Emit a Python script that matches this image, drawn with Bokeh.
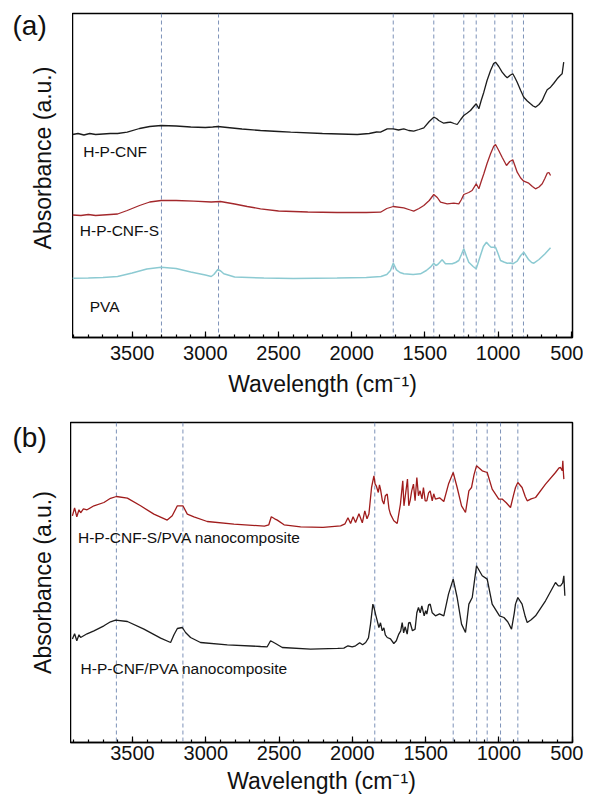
import math
from bokeh.plotting import figure
from bokeh.models import Span, Label, SingleIntervalTicker, Range1d
from bokeh.layouts import column, row
from bokeh.embed import file_html
from bokeh.resources import INLINE

FONT = "Liberation Sans"

# ---------------- Panel (a) data (wavenumber cm-1, absorbance a.u. with offsets) ----------------
A_CNF_WN = [3908, 3870, 3830, 3790, 3750, 3700, 3650, 3600, 3534, 3450, 3380, 3302, 3200, 3100, 3000,
            2950, 2915, 2850, 2750, 2623, 2500, 2417, 2200, 1962, 1880, 1830, 1803, 1757, 1716, 1680,
            1644, 1610, 1576, 1540, 1507, 1470, 1439, 1420, 1405, 1371, 1345, 1325, 1300, 1279, 1255,
            1234, 1210, 1188, 1160, 1149, 1131, 1115, 1097, 1075, 1051, 1030, 1017, 995, 972, 950,
            937, 915, 899, 885, 869, 845, 824, 800, 778, 760, 744, 720, 698, 680, 664, 641, 620, 596,
            575, 562, 551]
A_CNF_AB = [203, 204, 202.5, 204, 203, 203.5, 204, 204, 205.3, 209, 211, 212, 211.5, 210.5, 210,
            210.5, 211, 210, 208.5, 207, 206, 205.3, 204, 203, 204, 205.5, 205.3, 208.7, 208.7, 207.5,
            208.7, 207, 206.3, 208, 209.7, 216, 220.3, 219, 217, 214.3, 215, 215.3, 214, 213, 218,
            222, 224.5, 227, 232, 233.7, 228.7, 237, 245.3, 257, 267, 274, 275.3, 271, 265.3, 261.5,
            259.7, 262.5, 263.7, 260, 255.3, 247, 240.3, 236.5, 233.7, 231.5, 230.3, 233, 237, 243,
            247.7, 250.3, 254, 258.7, 262, 263.7, 275.3]

A_CNFS_WN = [3908, 3850, 3800, 3750, 3700, 3600, 3534, 3450, 3380, 3302, 3200, 3079, 2960, 2897, 2800,
             2714, 2623, 2500, 2300, 2100, 1900, 1803, 1760, 1716, 1644, 1600, 1576, 1540, 1507, 1470,
             1439, 1415, 1393, 1347, 1302, 1268, 1250, 1234, 1200, 1177, 1149, 1131, 1115, 1097, 1075,
             1051, 1030, 1017, 995, 972, 942, 920, 899, 885, 869, 845, 824, 790, 765, 744, 720, 698,
             680, 664, 652, 641]
A_CNFS_AB = [122.5, 122, 123, 122, 122.5, 123.5, 127, 132, 135.5, 137, 137, 136.3, 135.5, 136, 133.5,
             131, 128.7, 126.5, 125.5, 125, 125, 125.3, 129, 131, 129.7, 127.5, 126.3, 129, 132, 137,
             143, 140, 135.3, 133.7, 134.3, 133.7, 138, 143, 145, 147, 153.7, 148.7, 156, 163.7, 174,
             183.7, 191, 193, 187, 180.3, 172, 176, 177.7, 172, 165.3, 159.5, 156.3, 154.3, 151, 148.7,
             150.5, 153.7, 159, 164.3, 165, 162]

A_PVA_WN = [3908, 3800, 3700, 3600, 3500, 3400, 3302, 3200, 3100, 3000, 2960, 2942, 2915, 2895, 2874,
            2800, 2600, 2400, 2100, 1900, 1800, 1760, 1735, 1716, 1694, 1670, 1644, 1580, 1530, 1490,
            1462, 1439, 1425, 1412, 1382, 1359, 1313, 1290, 1268, 1250, 1234, 1215, 1200, 1170, 1149,
            1124, 1100, 1079, 1060, 1047, 1017, 1000, 983, 960, 937, 915, 899, 869, 845, 824, 805,
            790, 770, 755, 720, 680, 641]
A_PVA_AB = [59.3, 59.5, 60, 61, 64.5, 68.5, 70.3, 69, 65.5, 62.5, 61, 63, 68, 66.5, 63.7,
            60.5, 59.5, 59, 59.5, 60, 61, 63, 67, 74.3, 67.7, 65, 63.7, 63, 63.7, 67,
            70.3, 74.3, 72, 73, 77.7, 73.7, 73.7, 75, 77, 83, 88.7, 81, 75.3, 71, 68.7,
            80.3, 91, 95.3, 92, 90.3, 90.3, 84, 77, 75.5, 74.3, 74.5, 73.7, 76.3, 82, 85.3, 81,
            77.7, 75, 74.3, 78, 83.5, 89.7]

A_MARKERS = [3300, 2910, 1716, 1439, 1234, 1149, 1022, 903, 826]
A_LABELS = ["H-P-CNF", "H-P-CNF-S", "PVA"]
A_LABEL_X = [3835, 3858, 3790]
A_LABEL_Y = [185.7, 107.4, 30.7]

# ---------------- Panel (b) data ----------------
B_S_WN = [3910, 3895, 3880, 3865, 3854, 3835, 3810, 3763, 3695, 3650, 3610, 3535, 3445, 3354, 3263,
          3229, 3194, 3156, 3126, 3081, 2990, 2808, 2600, 2570, 2553, 2530, 2512, 2466, 2353, 2200,
          2080, 2050, 2030, 2012, 1995, 1978, 1955, 1932, 1915, 1900, 1887, 1869, 1853, 1845, 1837,
          1823, 1815, 1808, 1795, 1785, 1775, 1762, 1750, 1740, 1717, 1694, 1672, 1656, 1648, 1640,
          1624, 1615, 1606, 1595, 1583, 1572, 1560, 1549, 1538, 1525, 1515, 1503, 1492, 1480, 1469,
          1455, 1445, 1433, 1405, 1376, 1344, 1312, 1285, 1255, 1228, 1205, 1187, 1170, 1153, 1114,
          1080, 1046, 1001, 978, 950, 921, 900, 887, 871, 842, 820, 807, 780, 750, 682, 614, 590,
          580, 568, 564, 560, 557]
B_S_AB = [226.7, 234.7, 225.7, 232.7, 229.7, 233.7, 232.7, 236.7, 240, 244.2, 246, 244.4, 236.7, 228.4, 222.4,
          226.7, 236.7, 236.7, 228.4, 225.7, 221, 218.4, 216.4, 217.7, 225.7, 223.7, 222.4, 217.7, 215.7, 215.2,
          216.7, 218.7, 224.7, 219, 225.7, 220, 228.7, 219.7, 231.7, 223.7, 228.4, 255, 266.7, 258.7, 256.7,
          250, 257.7, 253.4, 241.7, 238.4, 246.7, 248.4, 233.7, 228.4, 221.7, 219, 238.4, 261.7, 236.7, 245,
          263.4, 236.7, 241.7, 251.7, 258.4, 241.7, 265, 246.7, 251.7, 243.7, 255, 241.7, 241.7, 249.7, 251.7,
          241.7, 248.7, 243.4, 244.7, 241, 258.4, 270, 255, 236.7, 230, 251.7, 255, 267.7, 276.7, 271.7,
          270, 253.4, 243.4, 243.4, 239.7, 235, 247.7, 255, 260, 255, 245.7, 241.7, 243.7, 245, 258.4, 270, 274.7,
          275, 271.7, 281.7, 269.7, 263.4]

B_C_WN = [3910, 3895, 3880, 3865, 3854, 3810, 3763, 3695, 3650, 3615, 3535, 3422, 3308, 3240, 3217,
          3194, 3160, 3138, 3104, 3036, 2853, 2626, 2581, 2558, 2524, 2478, 2285, 2100, 2058, 2030,
          2001, 1978, 1950, 1930, 1909, 1890, 1876, 1860, 1850, 1842, 1830, 1819, 1808, 1796, 1785,
          1775, 1762, 1740, 1717, 1700, 1683, 1670, 1660, 1650, 1640, 1626, 1616, 1606, 1590, 1572,
          1560, 1549, 1537, 1526, 1510, 1500, 1492, 1480, 1469, 1455, 1433, 1405, 1376, 1344, 1312,
          1285, 1255, 1228, 1205, 1182, 1165, 1153, 1114, 1080, 1046, 996, 966, 940, 914, 895,
          887, 871, 842, 820, 807, 780, 750, 682, 614, 595, 580, 565, 557, 552, 550]
B_C_AB = [103.4, 108.7, 101.7, 107.7, 105, 108.7, 111.7, 116.7, 120.7, 122.4, 121, 113.4, 104.4, 100, 107.7,
          114, 115, 110, 105, 100, 97.7, 96, 95.7, 101.7, 99, 95, 93.4, 94.2, 94.4, 96.7,
          95.7, 96.7, 99.7, 97.7, 100, 104.7, 118.4, 138.4, 133.7, 128.4, 121.7, 115, 119.7, 111.7, 114.7,
          107.7, 105, 103.7, 99, 101.7, 108.4, 111.7, 120, 109.7, 115.7, 108.4, 119.7, 120, 111.7, 113.4,
          129.7, 135, 129.7, 136.7, 126.7, 131.7, 128.4, 137.7, 138.4, 129.7, 126.7, 128.7, 126.7, 148.4, 163.4,
          145, 118.4, 110, 138.4, 145, 163.7, 176.7, 166.7, 163.4, 138.4, 126.7, 125, 120.7, 113.4, 129.7,
          138.4, 145, 138.4, 125.7, 120, 122.7, 126.7, 141.7, 160, 156.7, 156.7, 159.7, 166.7, 151.7, 146.7]

B_MARKERS = [3610, 3156, 1847, 1312, 1152, 1080, 989, 871]
B_LABELS = ["H-P-CNF-S/PVA nanocomposite", "H-P-CNF/PVA nanocomposite"]
B_LABEL_X = [3872, 3854]
B_LABEL_Y = [205.4, 73.8]

X_TITLE = "Wavelength (cm\u207b\u00b9)"
Y_TITLE = "Absorbance (a.u.)"

C_BLACK = "#1c1c1c"
C_RED_A = "#a3282c"
C_RED_B = "#a01c1c"
C_CYAN = "#8ccad2"
C_DASH = "#7d92b8"
C_TEXT = "#111111"


def make_panel(xr, yr, fw, fh, top, bottom, tick_standoff, title_standoff, markers, labels, lx, ly):
    p = figure(frame_width=fw, frame_height=fh, x_range=Range1d(*xr), y_range=Range1d(*yr),
               output_backend="svg", toolbar_location=None, y_axis_location=None,
               min_border_left=0, min_border_right=11, min_border_top=top,
               min_border_bottom=bottom)
    p.grid.visible = False
    p.outline_line_color = "black"
    p.outline_line_width = 1.5
    p.outline_line_alpha = 1.0
    xa = p.xaxis[0]
    xa.ticker = SingleIntervalTicker(interval=500, num_minor_ticks=5)
    xa.major_tick_in = 6
    xa.major_tick_out = 0
    xa.minor_tick_in = 3
    xa.minor_tick_out = 0
    xa.axis_line_width = 1.5
    xa.major_tick_line_width = 1.2
    xa.minor_tick_line_width = 1.2
    xa.major_label_text_font = FONT
    xa.major_label_text_font_size = "20px"
    xa.major_label_text_color = C_TEXT
    xa.major_label_standoff = tick_standoff
    xa.axis_label = X_TITLE
    xa.axis_label_text_font = FONT
    xa.axis_label_text_font_size = "23px"
    xa.axis_label_text_font_style = "normal"
    xa.axis_label_text_color = C_TEXT
    xa.axis_label_standoff = title_standoff

    for m in markers:
        p.add_layout(Span(location=m, dimension="height", line_color=C_DASH, line_dash="4 3",
                          line_width=1, level="underlay"))
    for t, x, y in zip(labels, lx, ly):
        p.add_layout(Label(x=x, y=y, text=t, text_font=FONT, text_font_size="15.5px",
                           text_color=C_TEXT, text_baseline="middle", text_align="left"))
    return p


def make_side(width, yr, fh, top, bottom, tag, tag_x, tag_mid, title_x, title_mid):
    """Strip left of a panel, with the same vertical frame geometry and y scale as the panel,
    holding the panel tag and the rotated y title (x in pixels from the strip's left)."""
    s = figure(frame_width=width, frame_height=fh, x_range=Range1d(0, width),
               y_range=Range1d(*yr), output_backend="svg", toolbar_location=None,
               x_axis_location=None, y_axis_location=None, title=None,
               min_border_left=0, min_border_right=0, min_border_top=top,
               min_border_bottom=bottom)
    s.grid.visible = False
    s.outline_line_color = None
    s.add_layout(Label(x=tag_x, y=tag_mid, text=tag, text_font=FONT, text_font_size="28px",
                       text_color=C_TEXT, text_baseline="middle", text_align="left"))
    s.add_layout(Label(x=title_x, y=title_mid, text=Y_TITLE, text_font=FONT,
                       text_font_size="23px", text_color=C_TEXT, angle=math.pi / 2,
                       text_align="center", text_baseline="middle"))
    return s


pa = make_panel((3908, 491), (0, 324), 500, 324, 13, 64, 8, 8,
                A_MARKERS, A_LABELS, A_LABEL_X, A_LABEL_Y)
pa.line(A_CNF_WN, A_CNF_AB, line_color=C_BLACK, line_width=1.3)
pa.line(A_CNFS_WN, A_CNFS_AB, line_color=C_RED_A, line_width=1.3)
pa.line(A_PVA_WN, A_PVA_AB, line_color=C_CYAN, line_width=1.5)
sa = make_side(72, (0, 324), 324, 13, 64, "(a)", 12, 311.7, 42, 179.5)

pb = make_panel((3923, 498), (0, 320), 502, 320, 21, 57, 3, 5,
                B_MARKERS, B_LABELS, B_LABEL_X, B_LABEL_Y)
pb.line(B_S_WN, B_S_AB, line_color=C_RED_B, line_width=1.3)
pb.line(B_C_WN, B_C_AB, line_color=C_BLACK, line_width=1.3)
sb = make_side(70, (0, 320), 320, 21, 57, "(b)", 12, 305, 42, 160)

layout = column(row(sa, pa, spacing=0), row(sb, pb, spacing=0), spacing=0)
open("out.html", "w").write(file_html(layout, INLINE))
